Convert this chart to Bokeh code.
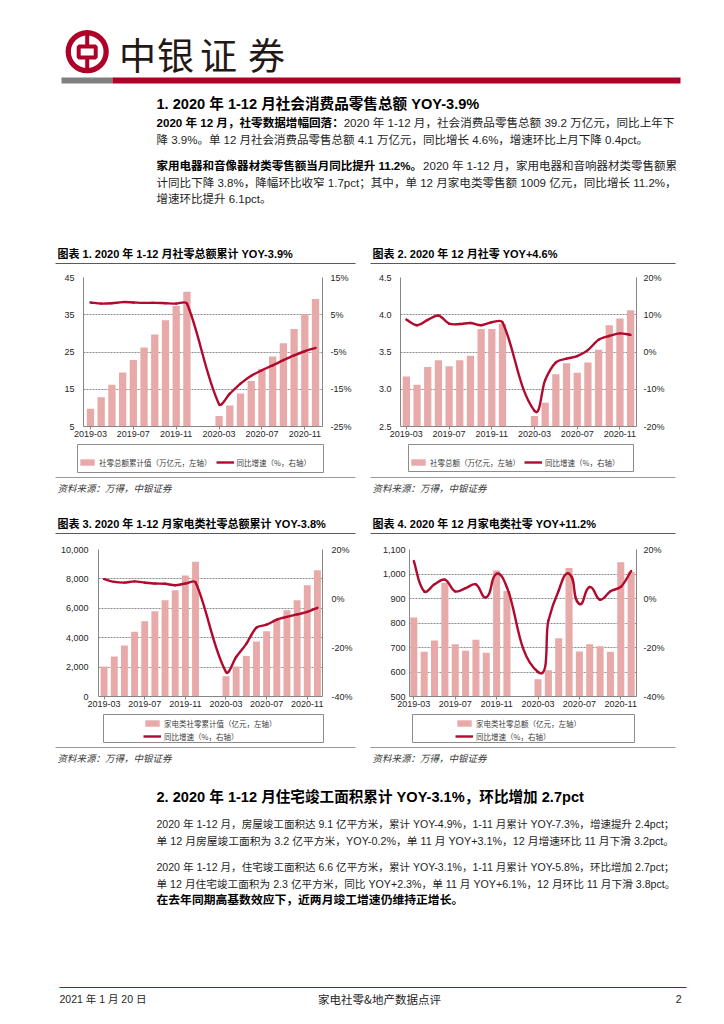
import math
from bokeh.plotting import figure
from bokeh.models import (Range1d, LinearAxis, FixedTicker, PrintfTickFormatter,
                          NumeralTickFormatter, Legend, LegendItem, ColumnDataSource)
from bokeh.layouts import column, row
from bokeh.core.properties import value
from bokeh.embed import file_html
from bokeh.resources import INLINE

# ---------------- data ----------------
months = ["2019-03", "2019-04", "2019-05", "2019-06", "2019-07", "2019-08", "2019-09",
          "2019-10", "2019-11", "2019-12", "2020-01", "2020-02", "2020-03", "2020-04",
          "2020-05", "2020-06", "2020-07", "2020-08", "2020-09", "2020-10", "2020-11", "2020-12"]
tick_months = ["2019-03", "2019-07", "2019-11", "2020-03", "2020-07", "2020-11"]

# chart 1: cumulative retail sales (万亿元) and cumulative YoY (%)
c1_total = [9.78, 12.84, 16.18, 19.52, 22.84, 26.23, 29.68, 33.52, 37.33, 41.16, None, None,
            7.85, 10.66, 13.86, 17.23, 20.45, 23.81, 27.34, 31.20, 35.16, 39.20]
c1_yoy = [8.3, 8.0, 8.1, 8.4, 8.3, 8.2, 8.2, 8.1, 8.0, 8.0, None, None,
          -19.0, -16.2, -13.5, -11.4, -9.9, -8.6, -7.2, -5.9, -4.8, -3.9]
# chart 2: monthly retail sales (万亿元) and YoY (%)
c2_total = [3.17, 3.06, 3.30, 3.39, 3.31, 3.39, 3.45, 3.81, 3.81, 3.88, None, None,
            2.64, 2.82, 3.20, 3.35, 3.22, 3.36, 3.53, 3.86, 3.95, 4.06]
c2_yoy = [8.7, 7.2, 8.6, 9.8, 7.6, 7.5, 7.8, 7.2, 8.0, 8.0, None, None,
          -15.8, -7.5, -2.8, -1.8, -1.1, 0.5, 3.3, 4.3, 5.0, 4.6]
# chart 3: cumulative home appliance retail (亿元) and cumulative YoY (%)
c3_total = [2045, 2727, 3477, 4409, 5114, 5795, 6545, 7227, 8227, 9159, None, None,
            1386, 2045, 2750, 3750, 4432, 5250, 5864, 6545, 7568, 8591]
c3_yoy = [7.9, 6.8, 6.5, 7.0, 6.5, 6.1, 6.0, 5.4, 6.1, 6.6, None, None,
          -30.0, -23.9, -18.5, -11.9, -10.7, -8.6, -7.5, -6.5, -5.5, -3.8]
# chart 4: monthly home appliance retail (亿元) and YoY (%)
c4_total = [822, 683, 729, 964, 713, 687, 732, 679, 1014, 931, None, None,
            570, 607, 738, 1025, 684, 713, 705, 683, 1048, 1009]
c4_yoy = [15.3, 2.9, 5.8, 7.7, 2.9, 4.2, 5.8, 0.5, 10.1, 4.5, None, None,
          -30.0, -9.1, 3.3, 10.1, -2.2, 4.7, -0.5, 3.0, 4.7, 11.2]

left_ticks_1 = [5, 15, 25, 35, 45]
right_ticks_1 = [-25, -15, -5, 5, 15]
left_ticks_2 = [2.5, 3.0, 3.5, 4.0, 4.5]
right_ticks_2 = [-20, -10, 0, 10, 20]
left_ticks_3 = [0, 2000, 4000, 6000, 8000, 10000]
right_ticks_3 = [-40, -20, 0, 20]
left_ticks_4 = [500, 600, 700, 800, 900, 1000, 1100]
right_ticks_4 = [-40, -20, 0, 20]

titles = ["图表 1. 2020 年 1-12 月社零总额累计 YOY-3.9%",
          "图表 2. 2020 年 12 月社零 YOY+4.6%",
          "图表 3. 2020 年 1-12 月家电类社零总额累计 YOY-3.8%",
          "图表 4. 2020 年 12 月家电类社零 YOY+11.2%"]
bar_labels = ["社零总额累计值（万亿元，左轴）", "社零总额（万亿元，左轴）",
              "家电类社零累计值（亿元，左轴）", "家电类社零总额（亿元，左轴）"]
line_label = "同比增速（%，右轴）"
source_text = "资料来源：万得，中银证券"

brand = "中银证券"
heading1 = "1. 2020 年 1-12 月社会消费品零售总额 YOY-3.9%"
heading2 = "2. 2020 年 1-12 月住宅竣工面积累计 YOY-3.1%，环比增加 2.7pct"
sec1_lines = [
    [("2020 年 12 月，社零数据增幅回落：", True), (" 2020 年 1-12 月，社会消费品零售总额 39.2 万亿元，同比上年下", False)],
    [("降 3.9%。单 12 月社会消费品零售总额 4.1 万亿元，同比增长 4.6%，增速环比上月下降 0.4pct。", False)],
    [("家用电器和音像器材类零售额当月同比提升 11.2%。", True), ("2020 年 1-12 月，家用电器和音响器材类零售额累", False)],
    [("计同比下降 3.8%，降幅环比收窄 1.7pct；其中，单 12 月家电类零售额 1009 亿元，同比增长 11.2%，", False)],
    [("增速环比提升 6.1pct。", False)],
]
sec2_lines = [
    [("2020 年 1-12 月，房屋竣工面积达 9.1 亿平方米，累计 YOY-4.9%，1-11 月累计 YOY-7.3%，增速提升 2.4pct；", False)],
    [("单 12 月房屋竣工面积为 3.2 亿平方米，YOY-0.2%，单 11 月 YOY+3.1%，12 月增速环比 11 月下滑 3.2pct。", False)],
    [("2020 年 1-12 月，住宅竣工面积达 6.6 亿平方米，累计 YOY-3.1%，1-11 月累计 YOY-5.8%，环比增加 2.7pct；", False)],
    [("单 12 月住宅竣工面积为 2.3 亿平方米，同比 YOY+2.3%，单 11 月 YOY+6.1%，12 月环比 11 月下滑 3.8pct。", False)],
    [("在去年同期高基数效应下，近两月竣工增速仍维持正增长。", True)],
]
footer_date = "2021 年 1 月 20 日"
footer_title = "家电社零&地产数据点评"
footer_page = "2"

# ---------------- styles ----------------
F_LAT = "Liberation Sans, Noto Sans CJK SC"
F_CJK = "Noto Sans CJK SC"
RED = "#AF0027"
BAR = "#E8A9A9"
LINE = "#B00A2E"
AX = "#868686"
NAN = float("nan")

W_REG = {' ': .278, '.': .278, ',': .278, '-': .333, '%': .889, '+': .584, '&': .667,
         'Y': .667, 'O': .778, 'p': .556, 'c': .5, 't': .278}
W_BOLD = dict(W_REG, p=.611, c=.556, t=.333)


def em(s, bold=False):
    tab = W_BOLD if bold else W_REG
    w = 0.0
    for ch in s:
        if ord(ch) < 128:
            w += tab.get(ch, .556)
        else:
            w += 1.0
    return w


def strip(y0, y1):
    p = figure(width=724, height=int(y1 - y0), x_range=Range1d(0, 724), y_range=Range1d(y1, y0),
               output_backend="svg", toolbar_location=None, min_border=0,
               min_border_left=0, min_border_right=0, min_border_top=0, min_border_bottom=0,
               x_axis_type=None, y_axis_type=None, outline_line_color=None,
               background_fill_color="white", border_fill_color="white")
    return p


def txt(p, x, y, s, size, bold=False, color="#000000", align="left", font=F_LAT, italic=False):
    style = "bold" if bold else ("italic" if italic else "normal")
    p.text(x=[x], y=[y], text=[s], text_font=value(font), text_font_size=f"{size:.2f}px",
           text_font_style=style, text_color=color, text_align=align, text_baseline="middle")


def body_line(p, y, runs, fit, base=11.5, x0=156, width=521):
    tot = sum(em(t, b) for t, b in runs)
    fs = min(12.0, width / tot) if fit else base
    x = x0
    for t, b in runs:
        txt(p, x, y, t, fs, bold=b, color="#000000" if b else "#1e1e1e")
        x += em(t, b) * fs


def smooth(xs, ys, sx, sy, k=0.3):
    X = [x * sx for x in xs]
    Y = [y * sy for y in ys]
    n = len(X)
    tx, ty = [], []
    for i in range(n):
        a, b = max(i - 1, 0), min(i + 1, n - 1)
        dx, dy = X[b] - X[a], Y[b] - Y[a]
        L = math.hypot(dx, dy) or 1.0
        tx.append(dx / L)
        ty.append(dy / L)
    d = dict(x0=[], y0=[], x1=[], y1=[], cx0=[], cy0=[], cx1=[], cy1=[])
    for i in range(n - 1):
        L = math.hypot(X[i + 1] - X[i], Y[i + 1] - Y[i])
        d["x0"].append(xs[i]); d["y0"].append(ys[i])
        d["x1"].append(xs[i + 1]); d["y1"].append(ys[i + 1])
        d["cx0"].append((X[i] + tx[i] * L * k) / sx)
        d["cy0"].append((Y[i] + ty[i] * L * k) / sy)
        d["cx1"].append((X[i + 1] - tx[i + 1] * L * k) / sx)
        d["cy1"].append((Y[i + 1] - ty[i + 1] * L * k) / sy)
    return d


FRAME_TOP, FRAME_BOTTOM_BORDER = 9, 16


def chart(width, mbl, mbr, height, xr, yl, yr, lt, rt, lfmt, totals, yoy, lstand, rstand):
    p = figure(width=width, height=height, x_range=Range1d(*xr), y_range=Range1d(*yl),
               output_backend="svg", toolbar_location=None,
               min_border_left=mbl, min_border_right=mbr, min_border_top=FRAME_TOP,
               min_border_bottom=FRAME_BOTTOM_BORDER,
               outline_line_color=None, background_fill_color="white", border_fill_color="white")
    p.extra_y_ranges = {"r": Range1d(*yr)}
    fw = width - mbl - mbr
    fh = height - FRAME_TOP - FRAME_BOTTOM_BORDER

    bx = [i for i, v in enumerate(totals) if v is not None]
    bt = [v for v in totals if v is not None]
    p.vbar(x="x", top="top", width=0.68, bottom=0,
           source=ColumnDataSource(dict(x=bx, top=bt)), fill_color=BAR, line_color=None)

    lx = [i for i, v in enumerate(yoy) if v is not None]
    ly = [v for v in yoy if v is not None]
    seg = smooth(lx, ly, fw / (xr[1] - xr[0]), fh / (yr[1] - yr[0]))
    p.bezier(x0="x0", y0="y0", x1="x1", y1="y1", cx0="cx0", cy0="cy0", cx1="cx1", cy1="cy1",
             source=ColumnDataSource(seg), line_color=LINE, line_width=2.4,
             line_cap="round", y_range_name="r")

    tick_idx = [months.index(m) for m in tick_months]
    xa = p.xaxis[0]
    xa.ticker = FixedTicker(ticks=tick_idx)
    xa.major_label_overrides = {i: months[i] for i in tick_idx}
    xa.minor_tick_line_color = None
    xa.major_tick_out = 3
    xa.major_tick_in = 0
    xa.major_label_standoff = 1
    xa.axis_line_color = AX
    xa.major_tick_line_color = AX

    ya = p.yaxis[0]
    ya.ticker = FixedTicker(ticks=lt)
    ya.formatter = lfmt
    ya.major_label_standoff = lstand
    ra = LinearAxis(y_range_name="r", ticker=FixedTicker(ticks=rt),
                    formatter=PrintfTickFormatter(format="%d%%"))
    ra.major_label_standoff = rstand
    p.add_layout(ra, "right")
    for a in (ya, ra):
        a.axis_line_color = AX
        a.major_tick_line_color = None
        a.major_tick_out = 0
        a.major_tick_in = 0
        a.minor_tick_line_color = None
        a.minor_tick_out = 0
    for a in (xa, ya, ra):
        a.major_label_text_font = "Liberation Sans"
        a.major_label_text_font_size = "9px"
        a.major_label_text_color = "#262626"

    p.xgrid.visible = False
    p.ygrid.ticker = FixedTicker(ticks=lt)
    p.ygrid.grid_line_color = "#8c8c8c"
    p.ygrid.grid_line_dash = "2 1"
    p.ygrid.grid_line_width = 1
    return p


def add_legend(s, bar_label, box, loc, horiz):
    # outline of the legend area
    l, r, t, b = box
    s.quad(left=[l], right=[r], top=[t], bottom=[b], fill_color=None,
           line_color="#8c8c8c", line_width=1)
    # legend keys styled like the chart's bars and line (no visible marks of their own)
    kb = s.vbar(x=[NAN], top=[NAN], width=1, fill_color=BAR, line_color=None)
    kl = s.line(x=[NAN, NAN], y=[NAN, NAN], line_color=LINE, line_width=2.4)
    leg = Legend(items=[LegendItem(label=bar_label, renderers=[kb]),
                        LegendItem(label=line_label, renderers=[kl])],
                 orientation="horizontal" if horiz else "vertical", location=loc,
                 margin=0, glyph_width=18, label_standoff=3,
                 label_text_font=F_CJK, label_text_font_size="7.5px",
                 label_text_color="#404040", border_line_color=None,
                 background_fill_alpha=0.0)
    if horiz:
        leg.padding = 4
        leg.spacing = 4
        leg.glyph_height = 8
        leg.label_height = 12
    else:
        leg.padding = 2
        leg.spacing = 2
        leg.glyph_height = 8
        leg.label_height = 11
    s.add_layout(leg, "center")


# ---------------- header strip (page y 0..268) ----------------
s1 = strip(0, 268)
s1.annulus(x=[86.7], y=[51.2], inner_radius=16.3, outer_radius=21.6, fill_color=RED, line_color=None)
s1.quad(left=[84.7], right=[88.7], top=[33], bottom=[70], fill_color=RED, line_color=None)
s1.rect(x=[86.7], y=[51.5], width=[17], height=[11], fill_color="white", line_color=RED, line_width=4)
brand_x = [137, 175, 218, 266]
for ch, bxp in zip(brand, brand_x):
    txt(s1, bxp, 53, ch, 37, color="#231815", align="center", font=F_CJK)
s1.quad(left=[61], right=[112], top=[77], bottom=[83], fill_color="#808080", line_color=None)
s1.quad(left=[112], right=[680], top=[77], bottom=[83], fill_color=RED, line_color=None)
txt(s1, 156, 103, heading1, 14.6, bold=True)
sec1_y = [122, 139, 165, 182, 198]
sec1_fit = [True, False, True, True, False]
for y, runs, f in zip(sec1_y, sec1_lines, sec1_fit):
    body_line(s1, y, runs, f)
title_x = [57, 372]
rule_x = [(55, 355), (370, 675)]
for tx_, t in zip(title_x, titles[:2]):
    txt(s1, tx_, 253, t, 11, bold=True)
for a, b in rule_x:
    s1.segment(x0=[a], y0=[263], x1=[b], y1=[263], line_color="#595959", line_width=1)

# ---------------- chart row 1 (268..442) ----------------
ch1 = chart(362, 83, 40, 174, (-0.65, 21.65), (5, 45), (-25, 15), left_ticks_1, right_ticks_1,
            PrintfTickFormatter(format="%d"), c1_total, c1_yoy, 9, 8)
ch2 = chart(362, 38, 88, 174, (-0.55, 21.55), (2.5, 4.5), (-20, 20), left_ticks_2, right_ticks_2,
            PrintfTickFormatter(format="%.1f"), c2_total, c2_yoy, 9, 7)

# ---------------- middle strip (442..540) ----------------
s2 = strip(442, 540)
add_legend(s2, bar_labels[0], (77, 323, 444, 472), (78, 540 - 468), True)
add_legend(s2, bar_labels[1], (408, 633, 444, 471), (409, 540 - 468), True)
for a, b in rule_x:
    s2.segment(x0=[a], y0=[477], x1=[b], y1=[477], line_color="#9a9a9a", line_width=1)
    s2.segment(x0=[a], y0=[533], x1=[b], y1=[533], line_color="#595959", line_width=1)
for tx_ in title_x:
    txt(s2, tx_, 487, source_text, 9.5, italic=True, color="#3a3a3a", font=F_CJK)
for tx_, t in zip(title_x, titles[2:]):
    txt(s2, tx_, 523, t, 11, bold=True)

# ---------------- chart row 2 (540..712) ----------------
ch3 = chart(362, 98, 40, 172, (-0.55, 21.5), (0, 10000), (-40, 20), left_ticks_3, right_ticks_3,
            NumeralTickFormatter(format="0,0"), c3_total, c3_yoy, 10, 9)
ch4 = chart(362, 47, 88, 172, (-0.42, 21.52), (500, 1100), (-40, 20), left_ticks_4, right_ticks_4,
            NumeralTickFormatter(format="0,0"), c4_total, c4_yoy, 4, 7)

# ---------------- bottom strip (712..1024) ----------------
s3 = strip(712, 1024)
add_legend(s3, bar_labels[2], (103, 323, 714, 742), (143, 1024 - 741.5), False)
add_legend(s3, bar_labels[3], (412, 634, 714, 742), (455, 1024 - 741.5), False)
for a, b in rule_x:
    s3.segment(x0=[a], y0=[747], x1=[b], y1=[747], line_color="#9a9a9a", line_width=1)
for tx_ in title_x:
    txt(s3, tx_, 757, source_text, 9.5, italic=True, color="#3a3a3a", font=F_CJK)
txt(s3, 156, 796, heading2, 14.6, bold=True)
sec2_y = [823, 840, 866, 883, 899]
sec2_fit = [True, True, True, True, False]
for y, runs, f in zip(sec2_y, sec2_lines, sec2_fit):
    body_line(s3, y, runs, f, base=11.8)
s3.segment(x0=[59], y0=[987], x1=[686], y1=[987], line_color="#C00000", line_width=1)
txt(s3, 59, 998, footer_date, 10.5, color="#1e1e1e")
txt(s3, 379, 998, footer_title, 11.5, color="#1e1e1e", align="center", font=F_CJK)
txt(s3, 681, 998, footer_page, 10.5, color="#1e1e1e", align="right")

layout = column(s1, row(ch1, ch2), s2, row(ch3, ch4), s3)
open("out.html", "w").write(file_html(layout, INLINE))
